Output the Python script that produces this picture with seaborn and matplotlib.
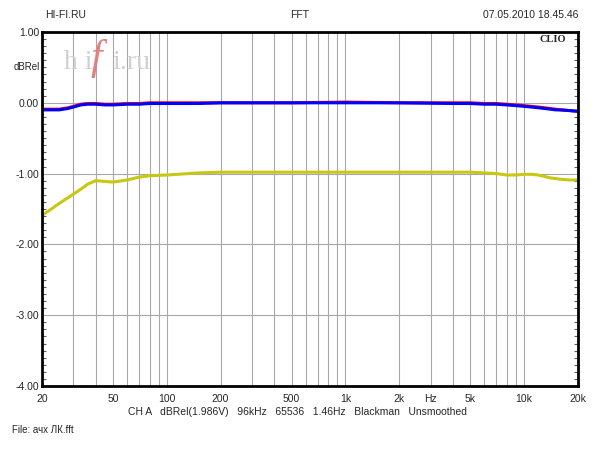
import numpy as np
import pandas as pd
import matplotlib
matplotlib.use("Agg")
import matplotlib.pyplot as plt
from matplotlib.ticker import FixedLocator, MultipleLocator
import seaborn as sns

# === DATA ===

freqs = [20, 22, 25, 28, 30, 33, 36, 40, 45, 50, 60, 70, 80, 100, 150, 200, 500,
         1000, 2000, 4000, 5000, 6000, 7000, 8000, 9000, 10000, 11000, 12000,
         13000, 14000, 15000, 16000, 18000, 20000]

red_db = [-0.09, -0.09, -0.09, -0.07, -0.05, -0.02, -0.01, -0.01, -0.02, -0.02,
          -0.01, -0.01, 0.00, 0.00, 0.00, 0.00, 0.00, 0.01, 0.00, 0.00, 0.00,
          -0.01, -0.01, -0.02, -0.03, -0.04, -0.05, -0.06, -0.07, -0.08, -0.09,
          -0.10, -0.11, -0.12]

blue_db = [-0.10, -0.10, -0.10, -0.08, -0.06, -0.03, -0.02, -0.02, -0.03, -0.03,
           -0.02, -0.02, -0.01, -0.01, -0.01, 0.00, 0.00, 0.00, 0.00, -0.01, -0.01,
           -0.02, -0.02, -0.03, -0.04, -0.05, -0.06, -0.07, -0.08, -0.09, -0.10,
           -0.10, -0.11, -0.12]

yellow_db = [-1.59, -1.52, -1.42, -1.34, -1.29, -1.22, -1.15, -1.10, -1.11, -1.12,
             -1.09, -1.05, -1.03, -1.02, -0.99, -0.98, -0.98, -0.98, -0.98, -0.98,
             -0.98, -0.99, -1.00, -1.02, -1.02, -1.01, -1.01, -1.02, -1.04, -1.06,
             -1.07, -1.08, -1.09, -1.09]

x_ticks = [20, 50, 100, 200, 500, 1000, 2000, 3000, 5000, 10000, 20000]
x_labels = ["20", "50", "100", "200", "500", "1k", "2k", "Hz", "5k", "10k", "20k"]
x_grid = [30, 40, 60, 70, 80, 90, 300, 400, 600, 700, 800, 900,
          4000, 6000, 7000, 8000, 9000]
y_ticks = [1.0, 0.0, -1.0, -2.0, -3.0, -4.0]

# === PLOT ===

sns.set_style("white")
plt.rcParams["font.family"] = ["Liberation Sans", "DejaVu Sans"]

df = pd.DataFrame({"freq": freqs, "red": red_db, "blue": blue_db, "yellow": yellow_db})

fig = plt.figure(figsize=(6, 4.5), dpi=100)
ax = fig.add_axes([0.07, 0.1422, 0.893, 0.7867])

sns.lineplot(data=df, x="freq", y="yellow", color="#c8c814", linewidth=2.2, ax=ax)
sns.lineplot(data=df, x="freq", y="red", color="#ff0000", linewidth=2.2, ax=ax)
sns.lineplot(data=df, x="freq", y="blue", color="#0000ff", linewidth=2.2, ax=ax)

ax.set_xscale("log")
ax.set_xlim(20, 20000)
ax.set_ylim(-4, 1)

ax.xaxis.set_major_locator(FixedLocator(x_ticks))
ax.set_xticklabels(x_labels)
ax.xaxis.set_minor_locator(FixedLocator(x_grid))
ax.xaxis.set_minor_formatter(plt.NullFormatter())
ax.tick_params(axis="x", which="both", length=0, labelsize=7.5, pad=6)

ax.set_yticks(y_ticks)
ax.set_yticklabels([f"{v:.2f}" for v in y_ticks])
ax.yaxis.set_minor_locator(MultipleLocator(0.1))
ax.tick_params(axis="y", which="major", length=0, labelsize=7.5, pad=2)
ax.tick_params(axis="y", which="minor", length=3, width=0.8, direction="in",
               left=True, right=True, color="#606060")

ax.grid(False)
ax.grid(True, axis="x", which="both", color="#a8a8a8", linewidth=0.8)
ax.grid(True, axis="y", which="major", color="#a8a8a8", linewidth=0.8)
ax.set_axisbelow(True)

for s in ax.spines.values():
    s.set_visible(True)
    s.set_color("black")
    s.set_linewidth(2)
    s.set_zorder(5)

ax.set_xlabel("")
ax.set_ylabel("")

# header / footer text
fig.text(45 / 600, 1 - 15 / 450, "HI-FI.RU", fontsize=7.5, va="center", ha="left")
fig.text(300 / 600, 1 - 15 / 450, "FFT", fontsize=7.5, va="center", ha="center")
fig.text(578 / 600, 1 - 15 / 450, "07.05.2010 18.45.46", fontsize=7.5, va="center", ha="right")
fig.text(14 / 600, 1 - 67 / 450, "dBRel", fontsize=7, va="center", ha="left")
fig.text(297 / 600, 1 - 412 / 450,
         "CH A   dBRel(1.986V)   96kHz   65536   1.46Hz   Blackman   Unsmoothed",
         fontsize=7.5, va="center", ha="center")
fig.text(12 / 600, 1 - 430 / 450, "File: ачх ЛК.fft", fontsize=7, va="center", ha="left")
fig.text(566 / 600, 1 - 40 / 450, "CLIO", fontsize=7.5, fontweight="bold",
         family="Liberation Serif", va="center", ha="right")

# watermark
fig.text(64 / 600, 1 - 69 / 450, "h i", fontsize=20, family="Liberation Serif",
         color="#d0d0d0", va="baseline", ha="left")
fig.text(91 / 600, 1 - 69 / 450, "f", fontsize=30, family="Liberation Serif",
         style="italic", color="#e08080", va="baseline", ha="left")
fig.text(112 / 600, 1 - 69 / 450, "i.ru", fontsize=20, family="Liberation Serif",
         color="#d0d0d0", va="baseline", ha="left")

fig.savefig("out.png", dpi=100)
